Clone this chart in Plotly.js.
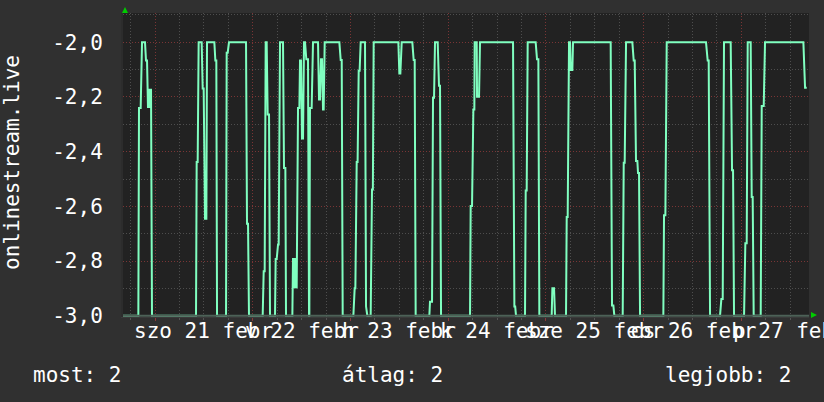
<!DOCTYPE html>
<html>
<head>
<meta charset="utf-8">
<script src="https://cdn.plot.ly/plotly-3.0.1.min.js"></script>
<style>
  html, body { margin: 0; padding: 0; background: #303030; }
  #chart { width: 824px; height: 402px; }
</style>
</head>
<body>
<div id="chart"></div>
<script>
// Hours relative to 21 Feb 00:00
const hours = [
  -7.86, -4.09, -3.93, -3.52, -3.19, -2.46, -2.21, -1.96, -1.72, -1.6, -1.47, -1.35, -1.23, -1.1, -0.98, -0.74,
  10.07, 10.23, 10.48, 10.72, 11.46, 11.71, 11.95, 12.28, 12.61, 12.77, 14.57, 14.82, 15.06, 15.23,
  17.44, 17.60, 17.85, 18.17, 22.35, 22.59, 22.84, 23.08,
  26.44, 26.69, 26.93, 27.18, 27.42, 27.67, 28.0, 28.24,
  29.47, 29.63, 29.88, 30.21, 30.37, 30.70, 31.43, 31.68, 32.01, 32.17,
  33.73, 33.89, 34.05, 34.2, 34.36, 34.52, 34.68, 34.79, 35.12, 35.45, 35.61, 35.86, 36.10, 36.35, 36.59, 36.84, 37.16, 37.57, 37.82,
  37.9, 38.06, 38.47, 38.80, 40.03, 40.28, 40.52, 40.77, 41.01, 41.26, 41.42, 41.67, 45.27, 45.6, 45.85, 46.09,
  48.71, 49.03, 49.2, 49.53, 49.75, 50.02, 50.25, 50.51, 51.57, 51.82, 52.14, 52.96, 53.29, 53.5, 53.70, 59.76, 60.0, 60.25, 60.58, 63.19, 63.52, 63.77, 64.01,
  67.37, 67.53, 68.03, 68.27, 68.52, 68.76, 69.42, 69.74, 69.99, 70.24,
  77.36, 77.52, 77.85, 78.18, 78.42, 78.50, 79.0, 79.08, 79.57, 79.81, 87.92, 88.25, 88.45, 88.65,
  90.86, 91.03, 91.27, 91.52, 93.48, 93.81, 94.14, 94.38,
  97.41, 97.58, 97.99, 98.23,
  100.93, 101.10, 101.34, 101.67, 101.92, 102.08, 102.49, 102.65, 111.90, 112.23, 112.56, 112.80,
  114.85, 115.10, 115.34, 115.67, 117.22, 117.55, 117.80, 118.12, 118.45, 118.61, 118.86, 119.11,
  124.83, 125.0, 125.33, 125.66, 135.31, 135.72, 135.97, 136.30,
  138.75, 139.08, 139.41, 139.73, 141.37, 141.70, 141.95, 142.19,
  144.65, 144.97, 145.30, 145.55, 146.28, 146.53, 146.77, 147.02,
  148.74, 148.99, 149.48, 149.80, 159.22, 159.63, 160.04
];
const values = [
  -3, -3, -2.24, -2.24, -2.0, -2.0, -2.067, -2.067, -2.24, -2.17, -2.24, -2.17, -2.24, -2.17, -2.17, -3,
  -3, -2.438, -2.438, -2.0, -2.0, -2.169, -2.169, -2.645, -2.645, -2.0, -2.0, -2.067, -2.067, -3,
  -3, -2.038, -2.038, -2.0, -2.0, -2.664, -2.664, -3,
  -3, -2.837, -2.837, -2.0, -2.0, -2.264, -2.264, -3,
  -3, -2.793, -2.793, -2.74, -2.74, -2.0, -2.0, -2.46, -2.46, -3,
  -3, -2.789, -2.9, -2.789, -2.9, -2.789, -2.9, -2.9, -2.24, -2.24, -2.067, -2.067, -2.352, -2.352, -2.0, -2.0, -2.062, -2.062, -3,
  -3, -2.24, -2.24, -2.0, -2.0, -2.209, -2.209, -2.062, -2.062, -2.246, -2.246, -2.0, -2.0, -2.065, -2.065, -3,
  -3, -2.9, -2.9, -2.438, -2.438, -2.104, -2.104, -2.0, -2.0, -2.966, -3, -3, -2.538, -2.538, -2.0, -2.0, -2.114, -2.114, -2.0, -2.0, -2.065, -2.065, -3,
  -3, -2.949, -2.949, -2.203, -2.203, -2.0, -2.0, -2.159, -2.159, -3,
  -3, -2.599, -2.599, -2.246, -2.246, -2.0, -2.0, -2.199, -2.199, -2.0, -2.0, -2.966, -2.966, -3,
  -3, -2.542, -2.542, -2.0, -2.0, -2.062, -2.062, -3,
  -3, -2.9, -2.9, -3,
  -3, -2.639, -2.639, -2.0, -2.0, -2.101, -2.101, -2.0, -2.0, -2.963, -2.963, -3,
  -3, -2.441, -2.441, -2.0, -2.0, -2.067, -2.067, -2.434, -2.434, -2.478, -2.478, -3,
  -3, -2.633, -2.633, -2.0, -2.0, -2.067, -2.067, -3,
  -3, -2.939, -2.939, -2.0, -2.0, -2.468, -2.468, -3,
  -3, -2.735, -2.735, -2.0, -2.0, -2.566, -2.566, -3,
  -3, -2.233, -2.233, -2.0, -2.0, -2.166, -2.166
];

const yTickVals = [-3.0, -2.8, -2.6, -2.4, -2.2, -2.0];
const yTickText = ['-3,0', '-2,8', '-2,6', '-2,4', '-2,2', '-2,0'];
const xLabelPos = [12, 36, 60, 84, 108, 132, 156];
const xLabelText = ['szo 21 febr', 'v 22 febr', 'h 23 febr', 'k 24 febr', 'sze 25 febr', 'cs 26 febr', 'p 27 febr'];
const seriesName = 'onlinestream.live';
const summaryLabels = ['most', 'átlag', 'legjobb'];
const summaryValues = [2, 2, 2];

const MONO = 'DejaVu Sans Mono, monospace';
const FS = 21;
const W = 824, H = 402;
const M = {l: 123, r: 15, t: 13, b: 85};
const plotW = W - M.l - M.r, plotH = H - M.t - M.b;
const pxX = px => (px - M.l) / plotW;
const pxY = py => (H - M.b - py) / plotH;

const annotations = [];
xLabelPos.forEach((p, i) => {
  annotations.push({
    x: p, xref: 'x', y: 0, yref: 'paper', yanchor: 'top', xanchor: 'center',
    yshift: 0, showarrow: false, text: xLabelText[i],
    font: {family: MONO, size: FS, color: '#ffffff'}
  });
});
annotations.push({
  x: pxX(12), xref: 'paper', y: pxY(163), yref: 'paper', textangle: -90,
  xanchor: 'center', yanchor: 'middle', showarrow: false, text: seriesName,
  font: {family: MONO, size: FS, color: '#ffffff'}
});
const sumX = [pxX(31), pxX(340), pxX(793)];
const sumAnchor = ['left', 'left', 'right'];
summaryLabels.forEach((lab, i) => {
  annotations.push({
    x: sumX[i], xref: 'paper', y: pxY(375), yref: 'paper', xanchor: sumAnchor[i], yanchor: 'middle',
    showarrow: false, text: lab + ': ' + summaryValues[i],
    font: {family: MONO, size: FS, color: '#ffffff'}
  });
});

const shapes = [
  // baseline of the value axis drawn over the trace, as in the original
  {type: 'line', xref: 'paper', x0: 0, x1: 1, yref: 'y', y0: yTickVals[0], y1: yTickVals[0],
   line: {color: '#4d6157', width: 2}, layer: 'above'},
  {type: 'path', xref: 'paper', yref: 'paper', xsizemode: 'pixel', ysizemode: 'pixel',
   xanchor: 0, yanchor: 1, path: 'M -1,0 L 5,0 L 2,6 Z', fillcolor: '#00cc00', line: {width: 0}},
  {type: 'path', xref: 'paper', yref: 'paper', xsizemode: 'pixel', ysizemode: 'pixel',
   xanchor: 1, yanchor: 0, path: 'M 2,-1 L 2,5 L 8,2 Z', fillcolor: '#00cc00', line: {width: 0}}
];

const trace = {
  x: hours, y: values, type: 'scatter', mode: 'lines', name: seriesName,
  line: {color: '#80ffc0', width: 2}, hoverinfo: 'skip'
};

const layout = {
  width: W, height: H, margin: M,
  paper_bgcolor: '#303030', plot_bgcolor: '#222222',
  showlegend: false,
  xaxis: {
    range: [-7.86, 160.6], tickmode: 'linear', tick0: 0, dtick: 24,
    showticklabels: false, ticks: 'outside', ticklen: 3, tickcolor: '#8a3a3a',
    showgrid: true, gridcolor: '#7a3535', griddash: '1px,2px', gridwidth: 1,
    minor: {dtick: 6, tick0: 0, showgrid: true, gridcolor: '#4e4e4e', griddash: '1px,2px', ticks: 'outside', ticklen: 2, tickcolor: '#555555'},
    showline: true, linecolor: '#3a3a3a', linewidth: 1, zeroline: false, fixedrange: true
  },
  yaxis: {
    range: [-3.0048, -1.8928], tickmode: 'array', tickvals: yTickVals, ticktext: yTickText,
    ticks: '', ticklabelstandoff: 14,
    tickfont: {family: MONO, size: FS, color: '#ffffff'},
    showgrid: true, gridcolor: '#7a3535', griddash: '1px,2px', gridwidth: 1,
    minor: {dtick: 0.1, tick0: -3, showgrid: true, gridcolor: '#4e4e4e', griddash: '1px,2px'},
    showline: true, linecolor: '#2c2c2c', linewidth: 2, zeroline: false, fixedrange: true
  },
  annotations: annotations,
  shapes: shapes
};

Plotly.newPlot('chart', [trace], layout, {staticPlot: true, displayModeBar: false});
</script>
</body>
</html>
